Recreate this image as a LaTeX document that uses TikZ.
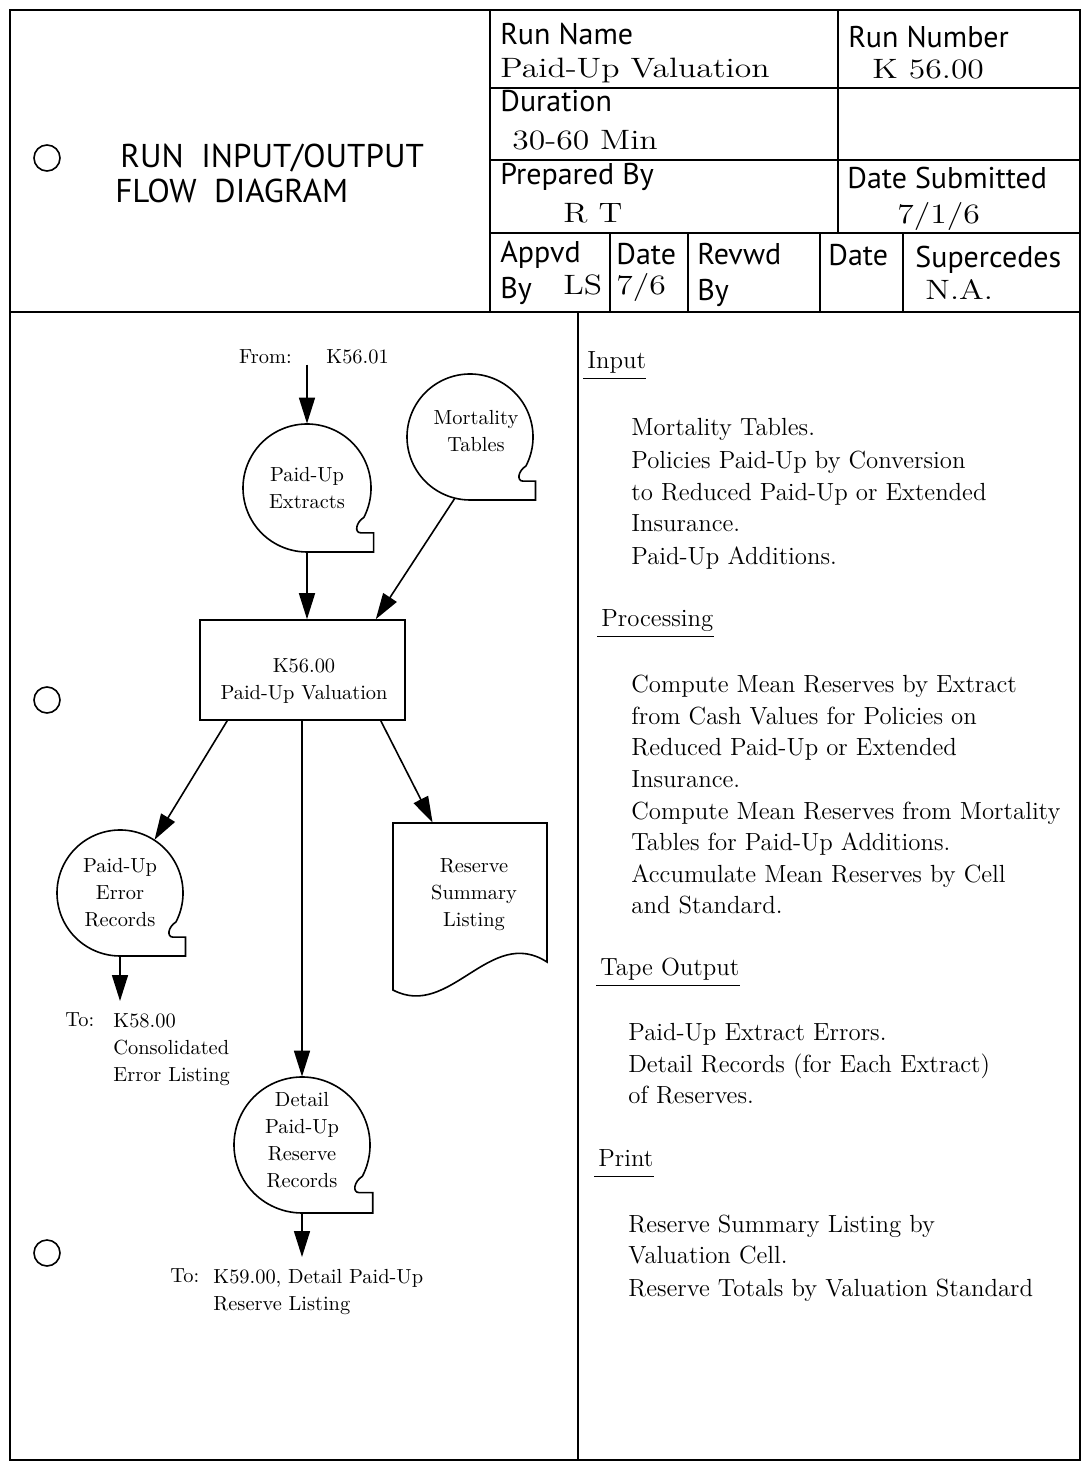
\documentclass[tikz,border=0pt]{standalone}
\usepackage{fontspec}
\setsansfont{PT Sans}
\newfontfamily\valfont[FakeStretch=1.2]{Latin Modern Roman}
\usetikzlibrary{arrows.meta}
\newcommand\hsansf{\sffamily\fontsize{15}{17}\selectfont}
\newcommand\hvalf{\valfont\fontsize{14}{16}\selectfont}
\newcommand\titlef{\sffamily\fontsize{16.5}{19}\selectfont}
\newcommand\bodyf{\rmfamily\fontsize{12.4}{15}\selectfont}
\newcommand\diagf{\rmfamily\fontsize{10.2}{13.5}\selectfont}
\newcommand\tapeoutline[3]{%
\begin{scope}[shift={(#1,#2)}]
\pgfmathsetmacro\rr{#3}
\draw[shapeline] ({0.888*\rr},{0.46*\rr}) arc[start angle=27.4,end angle=-270,radius=\rr]
 -- ({1.04*\rr},\rr) -- ({1.04*\rr},{0.70*\rr}) -- ({0.84*\rr},{0.70*\rr})
 .. controls ({0.74*\rr},{0.70*\rr}) and ({0.76*\rr},{0.54*\rr}) .. ({0.888*\rr},{0.46*\rr});
\end{scope}}
\begin{document}
\begin{tikzpicture}[x=0.5pt,y=-0.5pt,
  frame/.style={line width=1pt},
  shapeline/.style={line width=0.8pt},
  arr/.style={line width=0.8pt,-{Triangle[length=13pt,width=8pt]}},
  hlabel/.style={anchor=mid west,inner sep=0pt,font=\hsansf},
  hval/.style={anchor=mid west,inner sep=0pt,font=\hvalf},
  titletext/.style={anchor=mid west,inner sep=0pt,font=\titlef},
  body/.style={anchor=mid west,inner sep=0pt,font=\bodyf},
  dg/.style={inner sep=0pt,font=\diagf,align=center},
  dgl/.style={inner sep=0pt,font=\diagf,align=left},
  tapenode/.style={circle,inner sep=0pt,minimum size=#1,font=\diagf,align=center},
]
\useasboundingbox (0,0) rectangle (1084,1467);
% ---------- frame ----------
\draw[frame] (10,10) rectangle (1080,1460);
\draw[frame] (10,312) -- (1080,312);
\draw[frame] (490,10) -- (490,312);
\draw[frame] (838,10) -- (838,233);
\draw[frame] (490,88) -- (1080,88);
\draw[frame] (490,160) -- (1080,160);
\draw[frame] (490,233) -- (1080,233);
\foreach \x in {610,688,820,903} \draw[frame] (\x,233) -- (\x,312);
\draw[frame] (578,312) -- (578,1460);
\draw[shapeline] (47,158) circle[radius=13];
\draw[shapeline] (47,700) circle[radius=13];
\draw[shapeline] (47,1253) circle[radius=13];
% ---------- header ----------
\node[titletext] (t1) at (120,163) {RUN\ \ INPUT/OUTPUT};
\node[titletext] (t2) at (115,198) {FLOW\ \ DIAGRAM};
\node[hlabel] (h1) at (500,40) {Run Name};
\node[hval] (v1) at (500,73) {Paid-Up Valuation};
\node[hlabel] (h2) at (848,43) {Run Number};
\node[hval] (v2) at (872,74) {K 56.00};
\node[hlabel] (h3) at (500,107) {Duration};
\node[hval] (v3) at (512,145) {30-60 Min};
\node[hlabel] (h4) at (500,180) {Prepared By};
\node[hval] (v4) at (563,218) {R T};
\node[hlabel] (h5) at (847,184) {Date Submitted};
\node[hval] (v5) at (897,219) {7/1/6};
\node[hlabel] (h6) at (500,258) {Appvd};
\node[hlabel] (h6b) at (500,294) {By};
\node[hval] (v6) at (563,290) {LS};
\node[hlabel] (h7) at (616,260) {Date};
\node[hval] (v7) at (616,290) {7/6};
\node[hlabel] (h8) at (697,260) {Revwd};
\node[hlabel] (h8b) at (697,296) {By};
\node[hlabel] (h9) at (828,261) {Date};
\node[hlabel] (h10) at (915,263) {Supercedes};
\node[hval] (v10) at (925,295) {N.A.};
% ---------- diagram ----------
\node[dg] (from) at (314,357) {From:\hspace{1.7em}K56.01};
\node[tapenode=64pt] (pe) at (307,488) {Paid-Up\\Extracts};
\tapeoutline{307}{488}{64}
\node[tapenode=63pt] (mt) at (470,437) {};
\node[dg] (mtt) at (476,431) {Mortality\\Tables};
\tapeoutline{470}{437}{63}
\node[draw,shapeline,minimum width=102.5pt,minimum height=50pt] (box) at (302.5,670) {};
\node[dg] (boxt) at (304,681) {K56.00\\Paid-Up Valuation};
\node[tapenode=63pt] (er) at (120,893) {Paid-Up\\Error\\Records};
\tapeoutline{120}{893}{63}
\node[tapenode=68pt] (dt) at (302,1145) {};
\node[dg] (dtt) at (302,1140) {Detail\\Paid-Up\\Reserve\\Records};
\tapeoutline{302}{1145}{68}
\node[inner sep=0pt,minimum width=77pt,minimum height=85pt] (rs) at (470,908) {};
\draw[shapeline] (393,823) -- (547,823) -- (547,962)
  .. controls (490,925) and (450,1020) .. (393,990) -- cycle;
\node[dg] (rst) at (474,895) {Reserve\\Summary\\Listing};
\node[dg,anchor=mid west] (to1a) at (65,1022) {To:};
\node[dgl,anchor=north west] (to1) at (113,1013) {K58.00\\Consolidated\\Error Listing};
\node[dg,anchor=mid west] (to2a) at (170,1278) {To:};
\node[dgl,anchor=north west] (to2) at (213,1269) {K59.00, Detail Paid-Up\\Reserve Listing};
% connectors
\draw[arr] (pe.north |- from.south) -- (pe.north);
\draw[arr] (pe.south) -- (pe.south |- box.north);
\draw[arr] (mt.256) -- ([xshift=-15pt]box.north east);
\draw[arr] ([xshift=14pt]box.south west) -- (er.57);
\draw[arr] (dt.north |- box.south) -- (dt.north);
\draw[arr] ([xshift=-12.5pt]box.south east) -- ([xshift=20pt]rs.north west);
\draw[arr,shorten >=6pt] (er.south) -- (er.south |- to1.north);
\draw[arr,shorten >=6pt] (dt.south) -- (dt.south |- to2.north);
% ---------- right column ----------
\node[body] (hin) at (587,364) {Input};
\draw[shapeline] ([xshift=-2pt,yshift=-5pt]hin.base west) -- ([yshift=-5pt]hin.base east);
\foreach \t/\y [count=\i] in {Mortality Tables./431,Policies Paid-Up by Conversion/464,to Reduced Paid-Up or Extended/496,Insurance./527,Paid-Up Additions./560}
  \node[body] (in\i) at (631,\y) {\t};
\node[body] (hpr) at (601,622) {Processing};
\draw[shapeline] ([xshift=-2pt,yshift=-5pt]hpr.base west) -- ([yshift=-5pt]hpr.base east);
\foreach \t/\y [count=\i] in {Compute Mean Reserves by Extract/688,from Cash Values for Policies on/720,Reduced Paid-Up or Extended/751,Insurance./783,Compute Mean Reserves from Mortality/815,Tables for Paid-Up Additions./846,Accumulate Mean Reserves by Cell/878,and Standard./909}
  \node[body] (pr\i) at (631,\y) {\t};
\node[body] (hto) at (600,971) {Tape Output};
\draw[shapeline] ([xshift=-2pt,yshift=-5pt]hto.base west) -- ([yshift=-5pt]hto.base east);
\foreach \t/\y [count=\i] in {Paid-Up Extract Errors./1036,Detail Records (for Each Extract)/1068,of Reserves./1099}
  \node[body] (to\i) at (628,\y) {\t};
\node[body] (hpt) at (598,1162) {Print};
\draw[shapeline] ([xshift=-2pt,yshift=-5pt]hpt.base west) -- ([yshift=-5pt]hpt.base east);
\foreach \t/\y [count=\i] in {Reserve Summary Listing by/1228,Valuation Cell./1259,Reserve Totals by Valuation Standard/1292}
  \node[body] (pt\i) at (628,\y) {\t};
\end{tikzpicture}
\end{document}
